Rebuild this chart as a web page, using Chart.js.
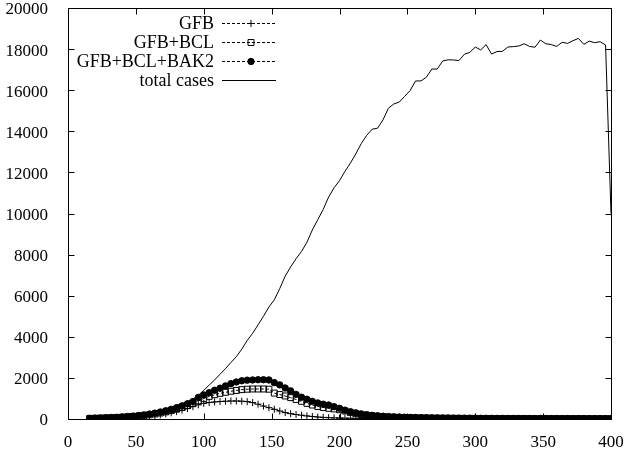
<!DOCTYPE html>
<html><head><meta charset="utf-8">
<script src="https://cdn.jsdelivr.net/npm/chart.js@4/dist/chart.umd.min.js"></script>
<style>html,body{margin:0;padding:0;background:#fff;} canvas{display:block;}</style>
</head><body>
<canvas id="c" width="628" height="451"></canvas>
<script>
const xValues = [
  16,20,24,28,32,36,40,44,48,52,
  56,60,64,68,72,76,80,84,88,92,
  96,100,104,108,112,116,120,124,128,132,
  136,140,144,148,152,156,160,164,168,172,
  176,180,184,188,192,196,200,204,208,212,
  216,220,224,228,232,236,240,244,248,252,
  256,260,264,268,272,276,280,284,288,292,
  296,300,304,308,312,316,320,324,328,332,
  336,340,344,348,352,356,360,364,368,372,
  376,380,384,388,392,396,400];
const gfb = [
  20,24,29,35,42,50,60,72,86,102,
  120,142,168,200,245,300,360,430,510,600,
  690,760,800,830,850,865,875,875,865,845,
  800,720,630,550,470,390,310,260,220,185,
  150,120,96,78,64,54,46,40,35,31,
  28,25,23,21,19,17,16,15,14,13,
  12,11,11,10,10,9,9,8,8,8,
  7,7,7,6,6,6,6,5,5,5,
  5,5,5,4,4,4,4,4,4,3,
  3,3,3,3,3,3,3];
const gfbBcl = [
  30,36,43,52,62,74,88,104,122,144,
  175,205,245,290,345,410,480,560,650,760,
  880,1000,1100,1180,1250,1300,1350,1390,1430,1450,
  1460,1460,1460,1450,1260,1190,1120,1040,950,860,
  760,680,610,560,520,490,450,390,320,260,
  215,180,152,130,112,98,87,78,70,63,
  57,52,48,44,41,38,36,34,32,30,
  29,28,27,26,25,24,23,22,21,21,
  20,20,19,19,18,18,17,17,17,16,
  16,16,15,15,15,14,14];
const gfbBclBak2 = [
  35,42,50,60,72,86,102,120,142,168,
  200,240,285,340,400,470,550,640,740,850,
  1050,1170,1280,1400,1500,1610,1720,1800,1860,1890,
  1900,1910,1910,1900,1770,1660,1510,1370,1200,1060,
  960,860,780,720,680,600,520,430,355,300,
  250,210,180,155,135,118,105,95,86,78,
  72,66,61,57,53,50,47,44,42,40,
  38,36,34,33,32,31,30,29,28,27,
  26,25,24,23,23,22,22,21,21,20,
  20,19,19,18,18,17,17];
const totalCases = [
  50,60,70,80,95,110,130,155,185,220,
  260,305,360,420,490,570,660,750,850,960,
  1150,1400,1650,1900,2180,2450,2750,3030,3400,3820,
  4170,4580,5000,5450,5800,6350,6950,7400,7800,8150,
  8600,9200,9700,10200,10800,11250,11600,12050,12450,12900,
  13400,13800,14100,14150,14550,15120,15330,15420,15700,15980,
  16450,16450,16630,17030,17030,17420,17480,17470,17440,17750,
  17840,18100,17960,18220,17760,17880,17890,18100,18120,18150,
  18260,18130,18090,18440,18260,18220,18130,18330,18280,18410,
  18520,18230,18390,18310,18360,18200,10000];
const xTickValues = [0,50,100,150,200,250,300,350,400];
const yTickValues = [0,2000,4000,6000,8000,10000,12000,14000,16000,18000,20000];
const legendLabels = ['GFB','GFB+BCL','GFB+BCL+BAK2','total cases'];

const FONT = "'Liberation Serif','Times New Roman',serif";
Chart.defaults.font.family = FONT;
Chart.defaults.color = '#000';

function pts(arr){ return xValues.map((x,i)=>({x:x,y:arr[i]})); }

const markerStyles = [
  {style:'cross', r:3.5, fill:'rgba(0,0,0,0)'},
  {style:'rect', r:4.2, fill:'rgba(0,0,0,0)'},
  {style:'circle', r:3.2, fill:'#000'},
  null
];

const frame = {
  id:'frame',
  afterDraw(chart){
    const ctx = chart.ctx;
    const a = chart.chartArea;
    const xs = chart.scales.x, ys = chart.scales.y;
    ctx.save();
    ctx.strokeStyle = '#000';
    ctx.lineWidth = 1;
    const L = Math.round(a.left)+0.5, R = Math.round(a.right)+0.5;
    const T = Math.round(a.top)+0.5, B = Math.round(a.bottom)+0.5;
    ctx.beginPath();
    ctx.rect(L, T, R-L, B-T);
    ctx.stroke();
    const tl = 6;
    ctx.beginPath();
    xTickValues.forEach(v=>{
      const px = Math.round(xs.getPixelForValue(v))+0.5;
      ctx.moveTo(px, B); ctx.lineTo(px, B-tl);
      ctx.moveTo(px, T); ctx.lineTo(px, T+tl);
    });
    yTickValues.forEach(v=>{
      const py = Math.round(ys.getPixelForValue(v))+0.5;
      ctx.moveTo(L, py); ctx.lineTo(L+tl, py);
      ctx.moveTo(R, py); ctx.lineTo(R-tl, py);
    });
    ctx.stroke();

    // key
    const textRight = 214, s0 = 222, s1 = 276, rows = [23,42,61,80];
    ctx.font = '18px ' + FONT;
    ctx.fillStyle = '#000';
    ctx.textAlign = 'right';
    ctx.textBaseline = 'middle';
    legendLabels.forEach((lab,i)=>{
      const yy = rows[i];
      ctx.fillText(lab, textRight, yy+1);
      const ly = Math.round(yy)+0.5;
      ctx.beginPath();
      ctx.setLineDash(i<3 ? [3,2] : []);
      ctx.moveTo(s0, ly); ctx.lineTo(s1, ly);
      ctx.stroke();
      ctx.setLineDash([]);
      const m = markerStyles[i];
      if (m) {
        ctx.fillStyle = m.fill;
        Chart.helpers.drawPoint(ctx, {pointStyle:m.style, radius:m.r, borderWidth:1}, (s0+s1)/2+2, ly);
        ctx.fillStyle = '#000';
      }
    });
    ctx.restore();
  }
};

function ds(label, arr, i){
  const m = markerStyles[i];
  return {
    label: label,
    data: pts(arr),
    borderColor: '#000',
    borderWidth: 1,
    borderDash: m ? [3,2] : [],
    pointStyle: m ? m.style : false,
    pointRadius: m ? m.r : 0,
    pointBorderWidth: 1,
    pointBorderColor: '#000',
    pointBackgroundColor: m ? m.fill : '#000',
    tension: 0,
    fill: false
  };
}

new Chart(document.getElementById('c'), {
  type: 'line',
  data: {
    datasets: [
      ds(legendLabels[0], gfb, 0),
      ds(legendLabels[1], gfbBcl, 1),
      ds(legendLabels[2], gfbBclBak2, 2),
      ds(legendLabels[3], totalCases, 3)
    ]
  },
  options: {
    responsive: false,
    animation: false,
    devicePixelRatio: 1,
    layout: { padding: { top: 8, right: 17, left: 0, bottom: 0 } },
    plugins: { legend: { display: false }, tooltip: { enabled: false } },
    scales: {
      x: {
        type: 'linear', min: 0, max: 400,
        afterBuildTicks: s => { s.ticks = xTickValues.map(v=>({value:v})); },
        afterFit: s => { s.height = 32; s.paddingLeft = 0; s.paddingRight = 0; },
        grid: { display: false },
        border: { display: false },
        ticks: { font: { size: 17 }, color: '#000', padding: 5, maxRotation: 0, autoSkip: false,
                 callback: v => String(v) }
      },
      y: {
        type: 'linear', min: 0, max: 20000,
        afterBuildTicks: s => { s.ticks = yTickValues.map(v=>({value:v})); },
        afterFit: s => { s.width = 68; s.paddingTop = 0; s.paddingBottom = 0; },
        grid: { display: false },
        border: { display: false },
        ticks: { font: { size: 17 }, color: '#000', padding: 12, labelOffset: 2, autoSkip: false,
                 callback: v => String(v) }
      }
    }
  },
  plugins: [frame]
});
</script>
</body></html>
